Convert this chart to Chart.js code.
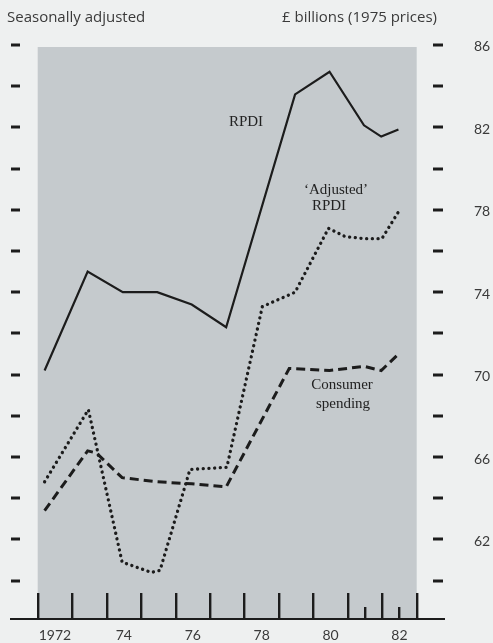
<!DOCTYPE html>
<html>
<head>
<meta charset="utf-8">
<script src="https://cdn.jsdelivr.net/npm/chart.js@4"></script>
<style>
  html, body { margin: 0; padding: 0; background: #eef0f0; }
  #wrap { width: 493px; height: 643px; position: relative; }
  canvas { display: block; }
</style>
</head>
<body>
<div id="wrap"><canvas id="c" width="493" height="643"></canvas></div>
<script>
// ---- data (x = year position, y = £ billions, 1975 prices) ----
const rpdiYears = [1972.2, 1973.45, 1974.47, 1975.47, 1976.47, 1977.47, 1979.47, 1980.47, 1981.47, 1981.97, 1982.47];
const rpdiValues = [70.2, 75.0, 74.0, 74.0, 73.4, 72.3, 83.6, 84.7, 82.1, 81.55, 81.9];

const adjYears = [1972.2, 1973.47, 1974.45, 1975.3, 1975.55, 1976.42, 1977.49, 1978.52, 1979.47, 1980.44, 1980.92, 1981.47, 1981.99, 1982.47];
const adjValues = [64.8, 68.3, 60.9, 60.4, 60.5, 65.4, 65.5, 73.3, 74.0, 77.1, 76.7, 76.6, 76.6, 77.9];

const consYears = [1972.2, 1973.45, 1973.7, 1974.45, 1975.45, 1976.47, 1977.47, 1979.3, 1980.47, 1981.47, 1981.97, 1982.47];
const consValues = [63.4, 66.3, 66.2, 65.0, 64.8, 64.7, 64.55, 70.3, 70.2, 70.4, 70.2, 71.0];

const yearLabels = ["1972", "74", "76", "78", "80", "82"];
const yearLabelPos = [1972.5, 1974.5, 1976.5, 1978.5, 1980.5, 1982.5];
const yTickValues = [60, 62, 64, 66, 68, 70, 72, 74, 76, 78, 80, 82, 84, 86];
const yLabelValues = [62, 66, 70, 74, 78, 82, 86];
const xFullTicks = [1972, 1973, 1974, 1975, 1976, 1977, 1978, 1979, 1980, 1981, 1982, 1983];
const xShortTicks = [1981.5, 1982.5];

const toPoints = (xs, ys) => xs.map((x, i) => ({ x: x, y: ys[i] }));

const INK = '#1c1c1c';

const decor = {
  id: 'decor',
  beforeDraw(chart) {
    const ctx = chart.ctx, a = chart.chartArea;
    ctx.save();
    ctx.fillStyle = '#eef0f0';
    ctx.fillRect(0, 0, chart.width, chart.height);
    ctx.fillStyle = '#c5cacd';
    ctx.fillRect(a.left, a.top, a.right - a.left, a.bottom - a.top);
    ctx.restore();
  },
  afterDraw(chart) {
    const ctx = chart.ctx, xs = chart.scales.x, ys = chart.scales.y, a = chart.chartArea;
    ctx.save();
    // side dashes
    ctx.fillStyle = INK;
    yTickValues.forEach(v => {
      const y = Math.round(ys.getPixelForValue(v));
      ctx.fillRect(11, y - 1.5, 9, 3);
      ctx.fillRect(433, y - 1.5, 10, 3);
    });
    // right labels
    ctx.fillStyle = '#3a3a3a';
    ctx.font = '14px Lato';
    ctx.textAlign = 'center';
    ctx.textBaseline = 'middle';
    yLabelValues.forEach(v => {
      ctx.fillText(String(v), 482, ys.getPixelForValue(v) + 2);
    });
    // x axis line
    ctx.fillStyle = INK;
    ctx.fillRect(10, a.bottom - 1, 435, 2);
    // x ticks
    xFullTicks.forEach(v => {
      const x = Math.round(xs.getPixelForValue(v));
      ctx.fillRect(x - 1, a.bottom - 26, 2.4, 26);
    });
    xShortTicks.forEach(v => {
      const x = Math.round(xs.getPixelForValue(v));
      ctx.fillRect(x - 1, a.bottom - 12, 2.4, 12);
    });
    // year labels
    ctx.fillStyle = '#3a3a3a';
    ctx.font = '14px Lato';
    ctx.textAlign = 'center';
    ctx.textBaseline = 'middle';
    yearLabels.forEach((t, i) => {
      ctx.fillText(t, xs.getPixelForValue(yearLabelPos[i]), 635);
    });
    // headers
    ctx.font = '15px "Open Sans"';
    ctx.textAlign = 'left';
    ctx.fillText('Seasonally adjusted', 7, 18);
    ctx.fillText('£ billions (1975 prices)', 282, 18);
    // series labels
    ctx.fillStyle = '#222';
    ctx.font = '15px "Liberation Serif"';
    ctx.textAlign = 'center';
    ctx.fillText('RPDI', 246, 122);
    ctx.fillText('\u2018Adjusted\u2019', 336, 190);
    ctx.fillText('RPDI', 329, 206);
    ctx.fillText('Consumer', 342, 385);
    ctx.fillText('spending', 343, 404);
    ctx.restore();
  }
};

new Chart(document.getElementById('c'), {
  type: 'line',
  data: {
    datasets: [
      {
        label: 'RPDI',
        data: toPoints(rpdiYears, rpdiValues),
        borderColor: INK, borderWidth: 2.2, pointRadius: 0, tension: 0,
        borderJoinStyle: 'miter', fill: false
      },
      {
        label: "'Adjusted' RPDI",
        data: toPoints(adjYears, adjValues),
        borderColor: INK, borderWidth: 3.3, pointRadius: 0, tension: 0,
        borderDash: [0.1, 5.6], borderCapStyle: 'round', fill: false
      },
      {
        label: 'Consumer spending',
        data: toPoints(consYears, consValues),
        borderColor: INK, borderWidth: 3, pointRadius: 0, tension: 0,
        borderDash: [9, 5], borderCapStyle: 'butt', fill: false
      }
    ]
  },
  options: {
    responsive: false,
    animation: false,
    devicePixelRatio: 1,
    layout: { padding: { left: 37.7, right: 76.3, top: 47, bottom: 24 } },
    plugins: { legend: { display: false }, tooltip: { enabled: false }, title: { display: false } },
    scales: {
      x: { type: 'linear', min: 1972, max: 1983, display: false },
      y: { type: 'linear', min: 58.14, max: 85.9, display: false }
    }
  },
  plugins: [decor]
});
</script>
</body>
</html>
